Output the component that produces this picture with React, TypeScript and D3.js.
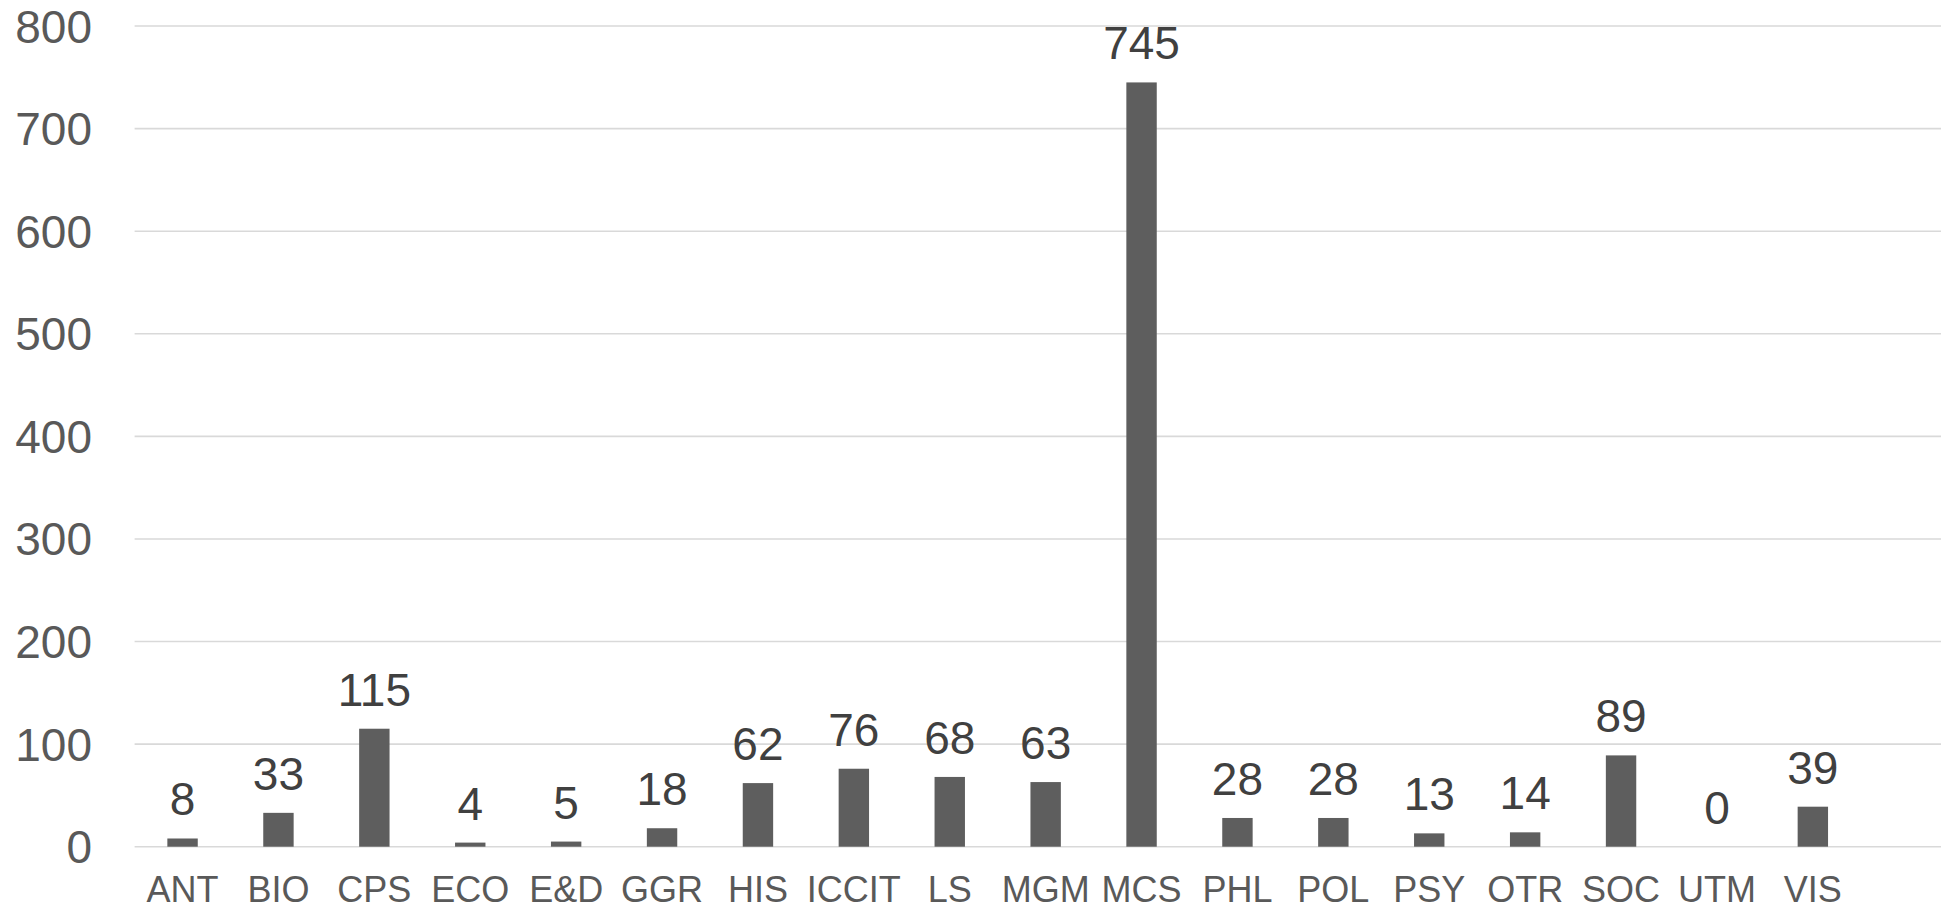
import { useEffect } from 'react'
import * as d3 from 'd3'

const categories = ['ANT', 'BIO', 'CPS', 'ECO', 'E&D', 'GGR', 'HIS', 'ICCIT', 'LS', 'MGM', 'MCS', 'PHL', 'POL', 'PSY', 'OTR', 'SOC', 'UTM', 'VIS']
const counts = [8, 33, 115, 4, 5, 18, 62, 76, 68, 63, 745, 28, 28, 13, 14, 89, 0, 39]
const yTicks = [0, 100, 200, 300, 400, 500, 600, 700, 800]

const width = 1941
const height = 909
const plotLeft = 134.6
const step = 95.9
const plotTop = 26
const plotBottom = 846.7

const font = "'Liberation Sans', Arial, sans-serif"

function App() {
  useEffect(() => {
    document.body.style.margin = '0'
  }, [])

  const xScale = d3
    .scaleBand()
    .domain(categories)
    .range([plotLeft, plotLeft + step * categories.length])
    .paddingInner(0.683)
    .paddingOuter(0.3415)
  const yScale = d3.scaleLinear().domain([0, 800]).range([plotBottom, plotTop])

  return (
    <svg width={width} height={height} style={{ display: 'block', background: '#fff' }}>
      {/* grid */}
      <g>
        {yTicks.map((t) => (
          <line
            key={t}
            x1={plotLeft}
            x2={width}
            y1={yScale(t)}
            y2={yScale(t)}
            stroke="#d9d9d9"
            strokeWidth={1.6}
          />
        ))}
      </g>
      <g fontFamily={font} fontSize={46} fill="#595959" textAnchor="end">
        {yTicks.map((t) => (
          <text key={t} x={92} y={yScale(t)} dy="0.36em">
            {t}
          </text>
        ))}
      </g>
      {/* bars */}
      <g fill="#5e5e5e">
        {categories.map((c, i) => (
          <rect
            key={c}
            x={xScale(c)}
            width={xScale.bandwidth()}
            y={yScale(counts[i])}
            height={yScale(0) - yScale(counts[i])}
          />
        ))}
      </g>
      <g fontFamily={font} fontSize={46} fill="#404040" textAnchor="middle">
        {categories.map((c, i) => (
          <text key={c} x={xScale(c)! + xScale.bandwidth() / 2} y={yScale(counts[i]) - 23}>
            {counts[i]}
          </text>
        ))}
      </g>
      <g fontFamily={font} fontSize={36} fill="#595959" textAnchor="middle">
        {categories.map((c) => (
          <text key={c} x={xScale(c)! + xScale.bandwidth() / 2} y={902}>
            {c}
          </text>
        ))}
      </g>
    </svg>
  )
}

export default App
